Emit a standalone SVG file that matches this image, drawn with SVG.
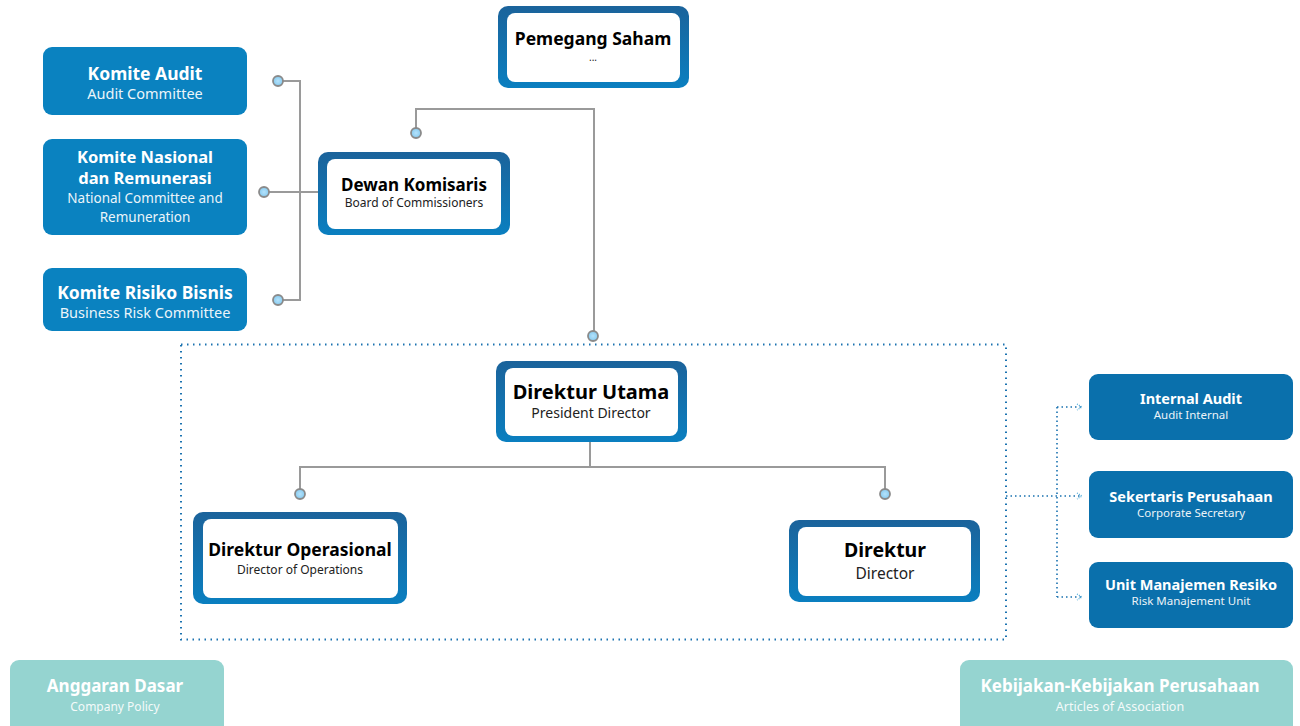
<svg xmlns="http://www.w3.org/2000/svg" width="1300" height="726" viewBox="0 0 1300 726">
<defs>
<linearGradient id="bd" x1="0" y1="0" x2="0" y2="1"><stop offset="0" stop-color="#1b639b"/><stop offset="1" stop-color="#0a7fc0"/></linearGradient>
<radialGradient id="dot"><stop offset="0" stop-color="#b5e2fb"/><stop offset="1" stop-color="#86cbf0"/></radialGradient>
<marker id="arr" viewBox="0 0 10 10" refX="6" refY="5" markerWidth="10" markerHeight="10" markerUnits="userSpaceOnUse" orient="auto">
<path d="M1 2 L6 5 L1 8" fill="none" stroke="#4aa8d8" stroke-width="1.2" stroke-dasharray="1 1.2"/>
</marker>
</defs>
<style>
.frame{fill:url(#bd)}
.inner{fill:#fff}
.solid{fill:#0a82c0}
.dark{fill:#0a70ac}
.teal{fill:#95d4d0}
.t{font-family:"Noto Sans","Open Sans",sans-serif;text-anchor:middle}
.b{font-weight:bold}
.w{fill:#fff}
.k{fill:#000}
.g{fill:#222}
.ln{fill:none;stroke:#9a9a9a;stroke-width:2}
.dt{fill:none;stroke:#1a72b0;stroke-width:2;stroke-dasharray:1.5 4.5}
.dt2{fill:none;stroke:#1a72b0;stroke-width:1.6;stroke-dasharray:1.5 3}
.c{fill:url(#dot);stroke:#8a8a8a;stroke-width:1.8}
</style>
<rect width="1300" height="726" fill="#fff"/>

<g id="connectors">
<path class="ln" d="M283 81 H300 V300 H283"/>
<path class="ln" d="M269 192 H320"/>
<path class="ln" d="M416 128 V109 H594 V331"/>
<path class="ln" d="M590 442 V467 M300 489 V467 H885 V489"/>
<circle class="c" cx="278" cy="81" r="5"/>
<circle class="c" cx="264" cy="192" r="5"/>
<circle class="c" cx="278" cy="300" r="5"/>
<circle class="c" cx="416" cy="133" r="5"/>
<circle class="c" cx="593" cy="336" r="5"/>
<circle class="c" cx="300" cy="494" r="5"/>
<circle class="c" cx="885" cy="494" r="5"/>
<rect class="dt" x="181" y="344.5" width="825" height="295"/>
<path class="dt2" d="M1006 496 H1082" marker-end="url(#arr)"/>
<path class="dt2" d="M1057 407 V597"/>
<path class="dt2" d="M1057 407 H1082" marker-end="url(#arr)"/>
<path class="dt2" d="M1057 597 H1082" marker-end="url(#arr)"/>
</g>

<g id="pemegang-saham">
<rect class="frame" x="498" y="6" width="191" height="82" rx="10"/>
<rect class="inner" x="507" y="13" width="173" height="69" rx="8"/>
<text class="t b k" x="593" y="45" font-size="17.5">Pemegang Saham</text>
<text class="t g" x="593" y="61" font-size="10">...</text>
</g>

<g id="komite-audit">
<rect class="solid" x="43" y="47" width="204" height="68" rx="9"/>
<text class="t b w" x="145" y="80" font-size="17.5">Komite Audit</text>
<text class="t w" x="145" y="99" font-size="14.5" opacity="0.92">Audit Committee</text>
</g>

<g id="komite-nasional">
<rect class="solid" x="43" y="139" width="204" height="96" rx="9"/>
<text class="t b w" x="145" y="163" font-size="16.5">Komite Nasional</text>
<text class="t b w" x="145" y="184" font-size="16.5">dan Remunerasi</text>
<text class="t w" x="145" y="203" font-size="13.5" opacity="0.92">National Committee and</text>
<text class="t w" x="145" y="222" font-size="13.5" opacity="0.92">Remuneration</text>
</g>

<g id="komite-risiko">
<rect class="solid" x="43" y="268" width="204" height="63" rx="9"/>
<text class="t b w" x="145" y="299" font-size="17.5">Komite Risiko Bisnis</text>
<text class="t w" x="145" y="318" font-size="14.5" opacity="0.92">Business Risk Committee</text>
</g>

<g id="dewan-komisaris">
<rect class="frame" x="318" y="152" width="192" height="83" rx="10"/>
<rect class="inner" x="327" y="159" width="174" height="70" rx="8"/>
<text class="t b k" x="414" y="191" font-size="17">Dewan Komisaris</text>
<text class="t g" x="414" y="207" font-size="12">Board of Commissioners</text>
</g>

<g id="direktur-utama">
<rect class="frame" x="496" y="361" width="191" height="81" rx="10"/>
<rect class="inner" x="505" y="368" width="173" height="68" rx="8"/>
<text class="t b k" x="591" y="399" font-size="20">Direktur Utama</text>
<text class="t g" x="591" y="418" font-size="14">President Director</text>
</g>

<g id="direktur-operasional">
<rect class="frame" x="193" y="512" width="214" height="92" rx="10"/>
<rect class="inner" x="203" y="519" width="195" height="79" rx="8"/>
<text class="t b k" x="300" y="556" font-size="17.5">Direktur Operasional</text>
<text class="t g" x="300" y="574" font-size="12">Director of Operations</text>
</g>

<g id="direktur">
<rect class="frame" x="789" y="520" width="191" height="82" rx="10"/>
<rect class="inner" x="798" y="527" width="173" height="69" rx="8"/>
<text class="t b k" x="885" y="557" font-size="19.5">Direktur</text>
<text class="t g" x="885" y="579" font-size="15.5">Director</text>
</g>

<g id="internal-audit">
<rect class="dark" x="1089" y="374" width="204" height="66" rx="9"/>
<text class="t b w" x="1191" y="404" font-size="14.5">Internal Audit</text>
<text class="t w" x="1191" y="419" font-size="11.5" opacity="0.92">Audit Internal</text>
</g>

<g id="sekertaris">
<rect class="dark" x="1089" y="471" width="204" height="67" rx="9"/>
<text class="t b w" x="1191" y="502" font-size="14.5">Sekertaris Perusahaan</text>
<text class="t w" x="1191" y="517" font-size="11.5" opacity="0.92">Corporate Secretary</text>
</g>

<g id="unit-manajemen-resiko">
<rect class="dark" x="1089" y="562" width="204" height="66" rx="9"/>
<text class="t b w" x="1191" y="590" font-size="14.5">Unit Manajemen Resiko</text>
<text class="t w" x="1191" y="605" font-size="11.5" opacity="0.92">Risk Manajement Unit</text>
</g>

<g id="anggaran-dasar">
<rect class="teal" x="10" y="660" width="214" height="74" rx="9"/>
<text class="t b w" x="115" y="692" font-size="17">Anggaran Dasar</text>
<text class="t w" x="115" y="711" font-size="12" opacity="0.9">Company Policy</text>
</g>

<g id="kebijakan">
<rect class="teal" x="960" y="660" width="333" height="74" rx="9"/>
<text class="t b w" x="1120" y="692" font-size="17">Kebijakan-Kebijakan Perusahaan</text>
<text class="t w" x="1120" y="711" font-size="12.5" opacity="0.9">Articles of Association</text>
</g>
</svg>
